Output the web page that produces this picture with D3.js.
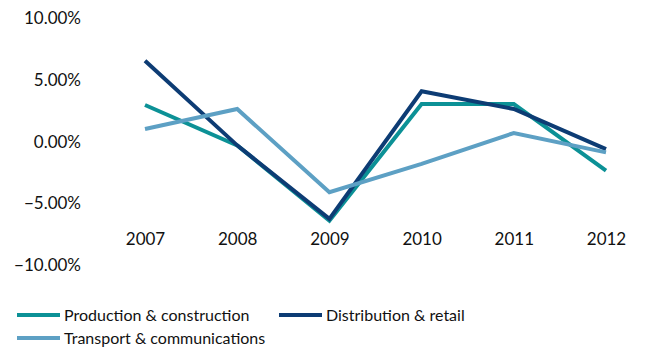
<!DOCTYPE html>
<html><head><meta charset="utf-8">
<script src="https://cdn.jsdelivr.net/npm/d3@7"></script>
<style>body{margin:0;background:#fff}svg{display:block;font-family:Lato,"Open Sans",sans-serif}</style>
</head><body><svg id="c" width="645" height="352"></svg>
<script>
const years = ["2007","2008","2009","2010","2011","2012"];
const production = [2.97, -0.3, -6.4, 3.05, 3.05, -2.35];
const distribution = [6.56, -0.3, -6.26, 4.08, 2.65, -0.6];
const transport = [1.03, 2.65, -4.1, -1.8, 0.7, -0.87];
const yTicks = [10, 5, 0, -5, -10];
const seriesNames = ["Production & construction","Distribution & retail","Transport & communications"];
const colors = ["#0C9196","#0D3C74","#5DA0C4"];
const series = [production, distribution, transport];

const svg = d3.select("#c");
const x = d3.scalePoint().domain(years).range([145, 606]);
const y = d3.scaleLinear().domain([-10, 10]).range([265, 18.3]);

const yAxis = d3.axisLeft(y).tickValues(yTicks).tickSize(0).tickPadding(0)
  .tickFormat(d => d3.format(".2f")(d) + "%");
svg.append("g").attr("transform","translate(81,0)").call(yAxis)
  .call(g => g.select(".domain").remove())
  .selectAll("text").attr("font-size",17).attr("fill","#111").attr("font-family","Lato,sans-serif");

const xAxis = d3.axisBottom(x).tickSize(0).tickPadding(0);
svg.append("g").attr("transform","translate(0,233)").call(xAxis)
  .call(g => g.select(".domain").remove())
  .selectAll("text").attr("font-size",17).attr("fill","#111").attr("font-family","Lato,sans-serif");

const line = d3.line().x((d,i) => x(years[i])).y(d => y(d));
series.forEach((s, i) => {
  svg.append("path").datum(s).attr("d", line)
    .attr("fill","none").attr("stroke", colors[i]).attr("stroke-width",4)
    .attr("stroke-linejoin","miter");
});

const legendPos = [[17,315],[279,315],[17,338]];
seriesNames.forEach((n,i) => {
  const [lx, ly] = legendPos[i];
  svg.append("line").attr("x1",lx).attr("x2",lx+43).attr("y1",ly).attr("y2",ly)
    .attr("stroke",colors[i]).attr("stroke-width",4);
  svg.append("text").attr("x",lx+47).attr("y",ly).attr("dy","0.35em")
    .attr("font-size",16).attr("fill","#111").text(n);
});
</script></body></html>
